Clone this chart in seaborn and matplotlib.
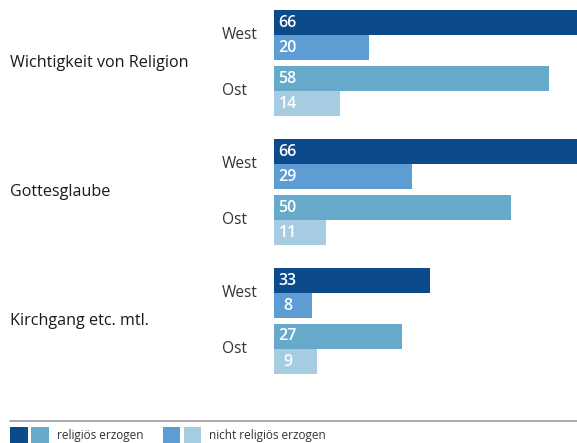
import matplotlib
matplotlib.use("Agg")
import matplotlib.pyplot as plt
import seaborn as sns
import pandas as pd
from matplotlib.patches import Rectangle
from matplotlib.lines import Line2D

# ---- data ----
categories = ["Wichtigkeit von Religion", "Gottesglaube", "Kirchgang etc. mtl."]
regions = ["West", "Ost"]
religious = {"West": [66, 66, 33], "Ost": [58, 50, 27]}
nonreligious = {"West": [20, 29, 8], "Ost": [14, 11, 9]}
legend_labels = ["religiös erzogen", "nicht religiös erzogen"]

palette = {
    "West|rel": "#0B4A8B",
    "West|non": "#5E9DD3",
    "Ost|rel": "#67A9CA",
    "Ost|non": "#A6CCE1",
}

# ---- layout (pixels) ----
W, H = 577, 443
group_top = [10, 139, 268]
offsets = {("West", "rel"): 12.5, ("West", "non"): 37.5,
           ("Ost", "rel"): 68, ("Ost", "non"): 93}
x0_px = 274
px_per_unit = (549 - 274) / 58.0

rows = []
for gi, cat in enumerate(categories):
    for reg in regions:
        rows.append(dict(cat=cat, region=reg, kind="rel", value=religious[reg][gi],
                         y=group_top[gi] + offsets[(reg, "rel")], key=f"{reg}|rel"))
        rows.append(dict(cat=cat, region=reg, kind="non", value=nonreligious[reg][gi],
                         y=group_top[gi] + offsets[(reg, "non")], key=f"{reg}|non"))
df = pd.DataFrame(rows)

sns.set_theme(style="white")
plt.rcParams["font.family"] = ["Open Sans", "DejaVu Sans"]

fig = plt.figure(figsize=(W / 100, H / 100), dpi=100)
ax = fig.add_axes([x0_px / W, 0, 1 - x0_px / W, 1])
sns.barplot(data=df, x="value", y="y", hue="key", palette=palette, orient="h",
            native_scale=True, dodge=False, width=1.0, legend=False, ax=ax,
            saturation=1, linewidth=0)
ax.set_xlim(0, (W - x0_px) / px_per_unit)
ax.set_ylim(H, 0)
ax.axis("off")

# value labels
for _, r in df.iterrows():
    ax.text(13.5 / px_per_unit, r["y"] + 0.5, str(r["value"]), color="white",
            fontsize=11.5, fontweight="semibold", ha="center", va="center")

def fy(py):
    return 1 - py / H

# category labels & region labels
for gi, cat in enumerate(categories):
    top = group_top[gi]
    fig.text(10 / W, fy(top + 53), cat, fontsize=11.6, color="#1a1a1a",
             ha="left", va="center")
    fig.text(222 / W, fy(top + 25), "West", fontsize=11.2, color="#333333",
             ha="left", va="center")
    fig.text(222 / W, fy(top + 81), "Ost", fontsize=11.2, color="#333333",
             ha="left", va="center")

# legend
fig.add_artist(Line2D([10 / W, 1], [fy(421), fy(421)], color="#9a9a9a", lw=1.2,
                      transform=fig.transFigure))
sq = [(10, 18, "West|rel"), (31, 18, "Ost|rel"), (163, 17, "West|non"), (184, 17, "Ost|non")]
for x, w, k in sq:
    fig.add_artist(Rectangle((x / W, 0), w / W, 16 / H, color=palette[k],
                             transform=fig.transFigure, lw=0))
fig.text(57 / W, fy(435), legend_labels[0], fontsize=8.5, color="#333333",
         ha="left", va="center")
fig.text(209 / W, fy(435), legend_labels[1], fontsize=8.5, color="#333333",
         ha="left", va="center")

fig.savefig("out.png", dpi=100)
